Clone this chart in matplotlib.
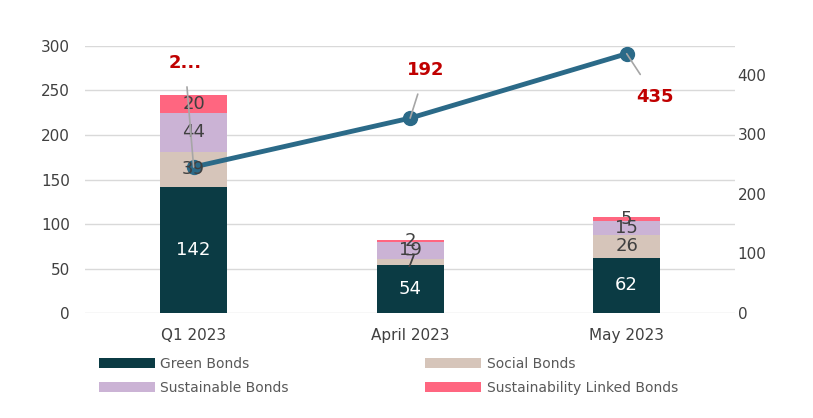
import numpy as np
import matplotlib.pyplot as plt

# Data
periods = ["Q1 2023", "April 2023", "May 2023"]
green = [142, 54, 62]
social = [39, 7, 26]
sustainable = [44, 19, 15]
linked = [20, 2, 5]
cumulative = [245, 327, 435]
line_labels = ["2...", "192", "435"]

series = [("Green Bonds", green, "#0B3B44"),
          ("Social Bonds", social, "#D6C5BA"),
          ("Sustainable Bonds", sustainable, "#CBB3D5"),
          ("Sustainability Linked Bonds", linked, "#FF6680")]

fig = plt.figure(figsize=(8.13, 4.18), dpi=100)
ax = fig.add_axes([0.105, 0.251, 0.799, 0.639])
ax2 = ax.twinx()

x = np.arange(len(periods))
bottom = np.zeros(len(periods))
handles = {}
for name, vals, col in series:
    b = ax.bar(x, vals, 0.31, bottom=bottom, color=col, label=name, zorder=2)
    handles[name] = b
    for xi, v, bt in zip(x, vals, bottom):
        c = "white" if name == "Green Bonds" else "#404040"
        # drawn on ax2 so labels sit above the line
        ax2.text(xi, bt + v / 2, str(v), ha="center", va="center",
                 fontsize=13, color=c, zorder=6, transform=ax.transData)
    bottom += np.array(vals)

ax.set_xlim(-0.5, 2.5)
ax.set_ylim(0, 300)
ax.set_yticks(range(0, 301, 50))
ax.set_xticks(x)
ax.set_xticklabels(periods)
ax.grid(axis="y", color="#D9D9D9", linewidth=1, zorder=0)
ax.set_axisbelow(True)
for s in ax.spines.values():
    s.set_visible(False)
for s in ax2.spines.values():
    s.set_visible(False)
ax.tick_params(length=0, labelsize=11, colors="#404040", pad=11)
ax.tick_params(axis="y", pad=11)

ax2.plot(x, cumulative, color="#2B6A88", linewidth=3.5, marker="o",
         markersize=10, zorder=4)
ax2.set_ylim(0, 448)
ax2.set_yticks(range(0, 401, 100))
ax2.tick_params(length=0, labelsize=11, colors="#404040", pad=2)

label_pos = [(-0.04, 420), (1.07, 407), (2.13, 363)]
for xi, yv, lab, (tx, ty) in zip(x, cumulative, line_labels, label_pos):
    ax2.annotate(lab, xy=(xi, yv), xytext=(tx, ty), ha="center", va="center",
                 fontsize=13, fontweight="bold", color="#C00000", zorder=7,
                 arrowprops=dict(arrowstyle="-", color="#A6A6A6", lw=1.2,
                                 shrinkA=9, shrinkB=0))

order = ["Green Bonds", "Sustainable Bonds", "Social Bonds",
         "Sustainability Linked Bonds"]
fig.legend(handles=[handles[n] for n in order], labels=order, ncol=2,
           loc="upper left", bbox_to_anchor=(0.115, 0.16), frameon=False,
           fontsize=10, handlelength=4.0, handleheight=0.7, handletextpad=0.4,
           labelspacing=0.75, columnspacing=9.85, labelcolor="#595959",
           borderaxespad=0)

fig.savefig("out.png", dpi=100)
